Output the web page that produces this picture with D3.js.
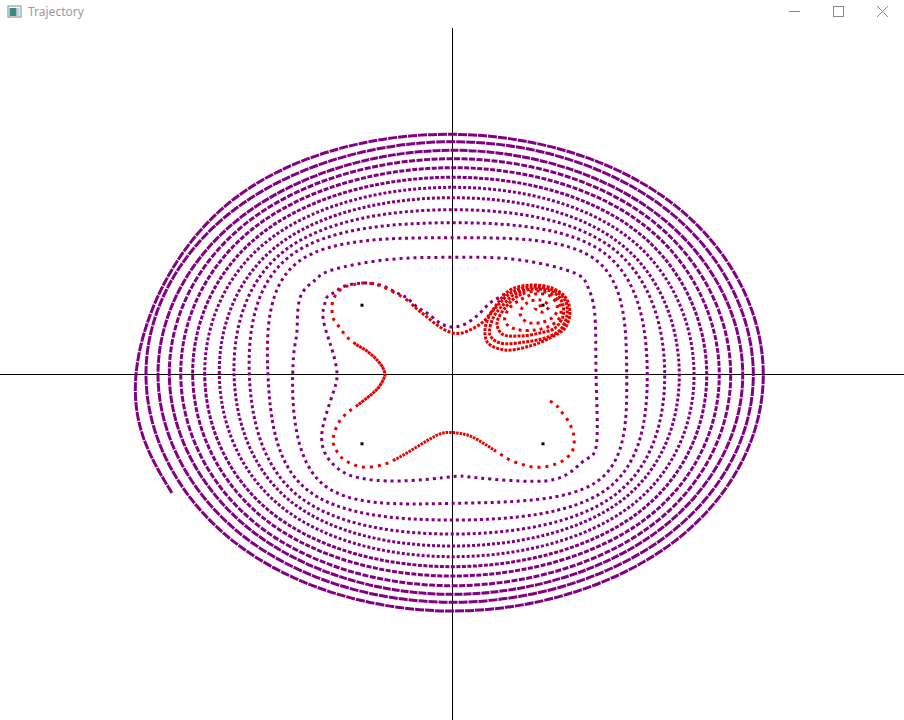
<!DOCTYPE html>
<html><head><meta charset="utf-8">
<script src="https://cdn.jsdelivr.net/npm/d3@7"></script>
<style>body{margin:0;background:#fff;overflow:hidden}svg{display:block}</style>
</head><body>
<svg id="c" width="904" height="720"></svg>
<script>
// attractor positions (data units)
const attractors = [[-1,1],[1,1],[-1,-1],[1,-1]];

// purple trajectory, one array per revolution (clockwise on screen)
const purpleStart = [[-3.10,-1.71]];
const rev1  = [[-3.497,0],[-2.483,2.461],[0,3.466],[2.438,2.461],[3.434,0],[2.438,-2.423],[0,-3.413],[-2.405,-2.423]];
const rev2  = [[-3.387,0],[-2.405,2.385],[0,3.359],[2.360,2.385],[3.324,0],[2.360,-2.334],[0,-3.287],[-2.310,-2.334]];
const rev3  = [[-3.254,0],[-2.310,2.297],[0,3.235],[2.277,2.297],[3.207,0],[2.277,-2.252],[0,-3.172],[-2.222,-2.252]];
const rev4  = [[-3.129,0],[-2.237,2.227],[0,3.114],[2.198,2.227],[3.074,0],[2.198,-2.179],[0,-3.048],[-2.147,-2.179]];
const rev5  = [[-3.003,0],[-2.162,2.148],[0,2.984],[2.123,2.148],[2.948,0],[2.123,-2.094],[0,-2.908],[-2.067,-2.094]];
const rev6  = [[-2.871,0],[-2.081,2.063],[0,2.846],[2.037,2.063],[2.809,0],[2.037,-2.010],[0,-2.773],[-1.985,-2.010]];
const rev7  = [[-2.738,0],[-1.999,1.972],[0,2.701],[1.948,1.972],[2.669,0],[1.948,-1.919],[0,-2.629],[-1.881,-1.919]];
const rev8  = [[-2.577,0],[-1.907,1.888],[0,2.551],[1.854,1.888],[2.506,0],[1.854,-1.832],[0,-2.475],[-1.786,-1.832]];
const rev9  = [[-2.414,0],[-1.835,1.807],[0,2.378],[1.782,1.807],[2.345,0],[1.782,-1.750],[0,-2.302],[-1.706,-1.750]];
const rev10 = [[-2.245,0],[-1.774,1.730],[0,2.190],[1.700,1.730],[2.152,0],[1.700,-1.659],[0,-2.100],[-1.611,-1.659]];
const rev11 = [[-2.039,0],[-1.692,1.638],[0,1.974],[1.598,1.638],[1.925,0],[1.598,-1.543],[0,-1.859],[-1.466,-1.543]];
const rev12 = [[-1.766,0],[-1.72,0.60],[-1.685,1.104],[-1.52,1.36],[-1.331,1.508],[-0.70,1.66],[0,1.691],[0.70,1.66],[1.320,1.479],[1.486,1.291],[1.57,0.90],[1.586,0],[1.593,-0.988],[1.464,-1.234],[1.210,-1.479],[0.746,-1.537],[0.193,-1.479],[0,-1.475],[-0.580,-1.537],[-1.022,-1.494],[-1.210,-1.407],[-1.343,-1.263],[-1.431,-1.061],[-1.442,-0.830],[-1.398,-0.584],[-1.320,-0.267]];
const rev13 = [[-1.276,0],[-1.320,0.310],[-1.376,0.541],[-1.431,0.830],[-1.409,1.032],[-1.376,1.133],[-1.298,1.190],[-1.188,1.277],[-0.967,1.320],[-0.768,1.277],[-0.613,1.176],[-0.503,1.104],[-0.392,0.974],[-0.282,0.887],[-0.138,0.743],[0.006,0.685],[0.160,0.743],[0.304,0.887],[0.414,1.032],[0.525,1.118],[0.602,1.190]];
const purpleRevs = [rev1,rev2,rev3,rev4,rev5,rev6,rev7,rev8,rev9,rev10,rev11,rev12,rev13];

// red trajectory, in consecutive pieces
const redA = [[1.077,-0.382],[1.144,-0.440],[1.188,-0.512],[1.265,-0.642],[1.320,-0.786],[1.343,-0.902],[1.343,-1.003],[1.320,-1.118],[1.232,-1.234],[1.110,-1.306],[1.000,-1.335],[0.890,-1.335],[0.790,-1.306],[0.635,-1.234]];
const redB = [[0.492,-1.118],[0.337,-0.988],[0.193,-0.887],[0.050,-0.844],[-0.105,-0.844],[-0.249,-0.931],[-0.414,-1.061]];
const redC = [[-0.602,-1.205],[-0.779,-1.306],[-1.000,-1.335],[-1.110,-1.291],[-1.221,-1.205],[-1.287,-1.089],[-1.320,-0.974],[-1.309,-0.859],[-1.254,-0.685],[-1.166,-0.556]];
const redD = [[-1.077,-0.469],[-0.945,-0.339],[-0.878,-0.267],[-0.812,-0.180],[-0.757,-0.051],[-0.746,-0.007],[-0.768,0.094],[-0.834,0.209],[-0.945,0.339]];
const redE = [[-1.055,0.426],[-1.166,0.541],[-1.243,0.671],[-1.320,0.815],[-1.331,0.945],[-1.320,1.075],[-1.265,1.190],[-1.188,1.263],[-1.110,1.291],[-0.989,1.320],[-0.856,1.306],[-0.768,1.263],[-0.613,1.162]];
const redF = [[-0.503,1.075],[-0.392,0.945],[-0.282,0.830],[-0.171,0.714],[-0.083,0.642],[0.006,0.599],[0.105,0.599],[0.215,0.657],[0.337,0.758],[0.436,0.916]];
const redG = [[0.525,1.075],[0.635,1.219],[0.856,1.291],[1.099,1.248],[1.254,1.104],[1.298,0.887],[1.243,0.671],[1.077,0.527],[0.856,0.411],[0.580,0.354],[0.392,0.455],[0.359,0.642],[0.414,0.859],[0.525,1.032],
  [0.657,1.190],[0.878,1.263],[1.110,1.219],[1.243,1.075],[1.265,0.859],[1.188,0.642],[1.022,0.527],[0.801,0.469],[0.525,0.455],[0.414,0.570],[0.448,0.815],[0.558,1.003],
  [0.691,1.162],[0.912,1.234],[1.110,1.190],[1.210,1.046],[1.221,0.844],[1.133,0.671],[0.967,0.599],[0.746,0.556],[0.547,0.584],[0.492,0.743],[0.580,0.960]];
const redH = [[0.724,1.133],[0.934,1.205],[1.099,1.147],[1.188,1.003],[1.188,0.830],[1.077,0.700],[0.912,0.642],[0.691,0.657],[0.580,0.758],[0.613,0.931],
  [0.746,1.075],[0.912,1.162],[1.077,1.133],[1.155,1.003],[1.133,0.858],[1.000,0.757],[0.823,0.757],[0.746,0.887],[0.823,1.032],[0.967,1.075],[1.066,0.990],[1.000,0.900],[0.912,0.960],[1.000,1.003]];
const redPieces = [redA,redB,redC,redD,redE,redF,redG,redH];

const W = 904, H = 720;
const svg = d3.select('#c');
const x = d3.scaleLinear().domain([-5,5]).range([0,905]);
const y = d3.scaleLinear().domain([-5,5]).range([721,28]);

// window chrome
const chrome = svg.append('g');
chrome.append('rect').attr('x',8).attr('y',6).attr('width',13).attr('height',11).attr('fill','#fff').attr('stroke','#7d8a93').attr('stroke-width',1);
chrome.append('rect').attr('x',9.5).attr('y',8).attr('width',7).attr('height',8).attr('fill','#3a8a84');
chrome.append('rect').attr('x',17).attr('y',8).attr('width',2.5).attr('height',8).attr('fill','#c7d0d6');
chrome.append('text').attr('x',28).attr('y',16).text('Trajectory')
  .attr('font-family','Segoe UI, "Noto Sans", "Open Sans", sans-serif').attr('font-size',12).attr('fill','#9a9a9a');
chrome.append('line').attr('x1',789).attr('x2',800).attr('y1',11.5).attr('y2',11.5).attr('stroke','#888').attr('stroke-width',1);
chrome.append('rect').attr('x',833.5).attr('y',6.5).attr('width',10).attr('height',10).attr('fill','none').attr('stroke','#888').attr('stroke-width',1);
chrome.append('path').attr('d','M877,6 L888,17 M888,6 L877,17').attr('stroke','#888').attr('stroke-width',1);

// axes
svg.append('line').attr('x1',x(0)).attr('x2',x(0)).attr('y1',28).attr('y2',H).attr('stroke','#000').attr('stroke-width',1);
svg.append('line').attr('x1',0).attr('x2',W).attr('y1',y(0)).attr('y2',y(0)).attr('stroke','#000').attr('stroke-width',1);

const lineNat = d3.line().x(d=>x(d[0])).y(d=>y(d[1])).curve(d3.curveNatural);
const lineCR  = d3.line().x(d=>x(d[0])).y(d=>y(d[1])).curve(d3.curveCatmullRom.alpha(0.5));

// measure a path length with a temporary element
const tmp = svg.append('path').attr('fill','none');
function lenOf(gen, pts){ if (pts.length<2) return 0; tmp.attr('d', gen(pts)); return tmp.node().getTotalLength(); }

// draw point groups as one smooth path whose dot spacing changes per group
function dottedPath(gen, groups, lead, patterns, color){
  const all = lead.concat(...groups);
  const breaks = [];
  let n = lead.length;
  groups.forEach(g=>{ breaks.push(lenOf(gen, all.slice(0, n+1))); n += g.length; });
  breaks.push(lenOf(gen, all));
  const dash = [];
  let pos = 0;
  for (let i=0;i<groups.length;i++){
    const [d,g] = patterns[i];
    while (pos < breaks[i+1]){ dash.push(d, g); pos += d + g; }
  }
  svg.append('path').attr('d', gen(all)).attr('fill','none').attr('stroke',color)
    .attr('stroke-width',3).attr('stroke-linecap','butt').attr('stroke-dasharray', dash.join(','));
}

const PURPLE = '#830083', RED = '#e80000';
const purpleDash = [[9,1],[9,1],[8,1],[6,1.5],[5,1.5],[4,1.5],[3,2],[3,2],[3,2.5],[3,3],[3,3.5],[3,4],[3,4]];
dottedPath(lineNat, purpleRevs, purpleStart, purpleDash, PURPLE);

const redDash = [[3,5],[2.5,1],[3,5],[3,0.5],[3,5],[3,1.5],[3,1.2],[3,4]];
dottedPath(lineCR, redPieces, [], redDash, RED);
tmp.remove();

// attractors
svg.selectAll('rect.att').data(attractors).enter().append('rect').attr('class','att')
  .attr('x',d=>x(d[0])-1.5).attr('y',d=>y(d[1])-1.5).attr('width',3).attr('height',3).attr('fill','#000');
</script>
</body></html>
